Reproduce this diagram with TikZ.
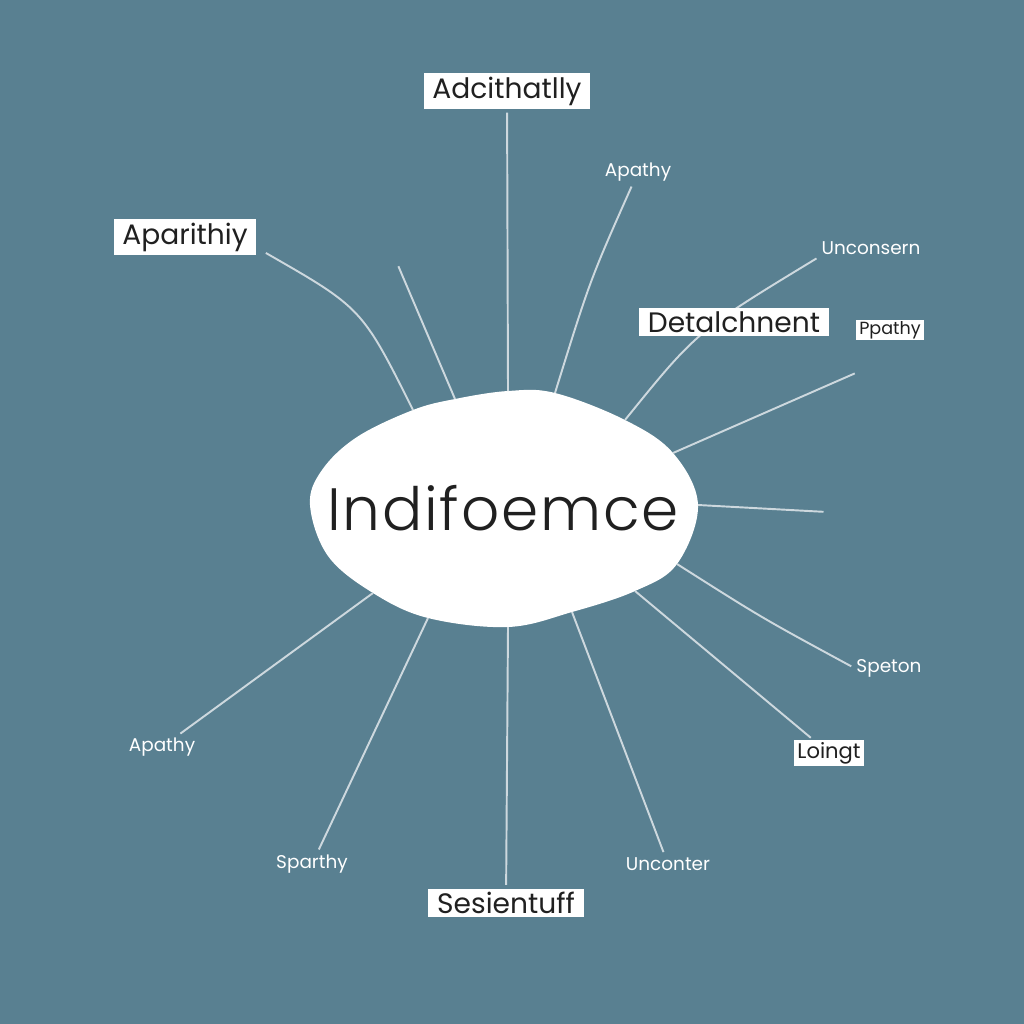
\documentclass[tikz,border=0pt]{standalone}
\usepackage{fontspec}
\setmainfont{Poppins}
\newfontfamily\hubfont{Poppins Light}
\definecolor{slate}{RGB}{89,128,145}
\definecolor{wire}{RGB}{205,216,222}
\definecolor{ink}{RGB}{32,32,32}
\pgfdeclarelayer{bg}
\pgfdeclarelayer{wires}
\pgfsetlayers{bg,wires,main}
\begin{document}
\begin{tikzpicture}[x=0.02cm, y=-0.02cm,
        box/.style={fill=white, text=ink, inner xsep=5pt, inner ysep=2pt, font=\fontsize{16}{19}\selectfont},
        tag/.style={text=white, inner sep=1pt, font=\fontsize{10.5}{12}\selectfont},
        link/.style={draw=wire, line width=1.1pt, shorten <=2pt}]
    \useasboundingbox (0,0) rectangle (1024,1024);
    % outline of the blob
    \foreach \p/\x/\y in {1/310/505, 2/322/470, 3/357/437, 4/413/410, 5/455/399, 6/508/391, 7/555/393,
            8/625/420, 9/673/453, 10/698/505, 11/677/564, 12/635/591, 13/572/612,
            14/508/627, 15/428/618, 16/373/593, 17/328/556}
        \coordinate (b\p) at (\x,\y);
    \begin{pgfonlayer}{bg}
        \fill[slate] (0,0) rectangle (1024,1024);
        \fill[white] plot[smooth cycle, tension=0.6] coordinates {(b1) (b2) (b3) (b4) (b5) (b6) (b7) (b8)
            (b9) (b10) (b11) (b12) (b13) (b14) (b15) (b16) (b17)};
    \end{pgfonlayer}
    \node[text=ink, font=\fontsize{34}{40}\selectfont\hubfont\addfontfeatures{LetterSpace=3}] (mid) at (503,508) {Indifoemce};
    \node[box] (adc) at (507,91) {Adcithatlly};
    \node[box] (apa) at (185,237) {Aparithiy};
    \node[tag] (ap1) at (638,172) {Apathy};
    \node[tag] (unc) at (871,248) {Unconsern};
    \node[box] (det) at (734,322) {Detalchnent};
    \node[box, inner xsep=2pt, inner ysep=0.5pt, font=\fontsize{10}{12}\selectfont] (ppa) at (890,330) {Ppathy};
    \node[tag] (spe) at (889,668) {Speton};
    \node[box, inner xsep=2pt, inner ysep=1pt, font=\fontsize{12}{14}\selectfont] (loi) at (829,753) {Loingt};
    \node[tag] (unt) at (668,864) {Unconter};
    \node[box] (ses) at (506,903) {Sesientuff};
    \node[tag] (spa) at (312,864) {Sparthy};
    \node[tag] (ap2) at (162,747) {Apathy};
    \coordinate (e1) at (397,263);
    \coordinate (e2) at (858,372);
    \coordinate (e3) at (827,512);
    \begin{pgfonlayer}{wires}
        \draw[link] (adc) -- (b6);
        \draw[link] ([shift={(6,-4)}]apa.south east) .. controls (362,308) .. (b4);
        \draw[link] (e1) -- (b5);
        \draw[link] (ap1) .. controls (590,280) .. (b7);
        \draw[link] (unc.south west) .. controls (697,331) .. (b8);
        \draw[link] (e2) -- (b9);
        \draw[link] (e3) -- (b10);
        \draw[link] (spe.west) .. controls (762,618) .. (b11);
        \draw[link] (loi) -- (b12);
        \draw[link] (unt) -- (b13);
        \draw[link] (ses) -- (b14);
        \draw[link] (spa) -- (b15);
        \draw[link] (ap2) -- (b16);
    \end{pgfonlayer}
\end{tikzpicture}
\end{document}
